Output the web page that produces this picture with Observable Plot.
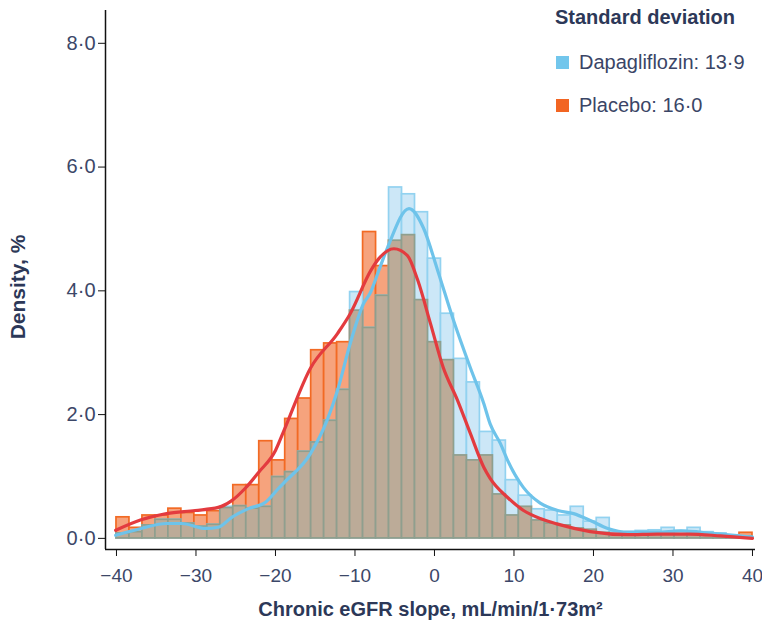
<!DOCTYPE html>
<html><head><meta charset="utf-8">
<script src="https://cdn.jsdelivr.net/npm/d3@7"></script>
<script src="https://cdn.jsdelivr.net/npm/@observablehq/plot@0.6"></script>
<style>
body{margin:0;background:#fff;font-family:"Liberation Sans",Arial,Helvetica,sans-serif;}
#wrap{position:relative;width:762px;height:627px;overflow:hidden;}
#legend{position:absolute;left:0;top:0;color:#3a4566;font-size:20px;}
#legend .ttl{position:absolute;left:555px;top:5px;line-height:24px;white-space:nowrap;font-weight:bold;font-size:20px;color:#2c3858;}
#legend .it{position:absolute;left:556px;line-height:24px;white-space:nowrap;display:flex;align-items:center;}
#legend .sw{width:13px;height:13px;margin-right:10px;display:inline-block;}
#ytitle{position:absolute;left:18px;top:287px;transform:translate(-50%,-50%) rotate(-90deg);white-space:nowrap;font-weight:bold;font-size:21px;color:#2c3858;}
</style></head><body>
<div id="wrap"><div id="chart"></div>
<div id="legend"></div>
<div id="ytitle"></div>
</div>
<script>
// ---- data ----
const legendTitle = "Standard deviation";
const seriesNames = ["Dapagliflozin: 13·9", "Placebo: 16·0"];
const seriesColors = ["#72C6EC", "#F26522"];
const xTitle = "Chronic eGFR slope, mL/min/1\u00B773m\u00B2";
const yTitle = "Density, %";
const xTicks = [-40, -30, -20, -10, 0, 10, 20, 30, 40];
const yTicks = [0, 2, 4, 6, 8];
const binCount = 49;
const binRange = [-40, 40];
// histogram heights (density, %), one per bin, left to right
const placebo = [0.34,0.17,0.37,0.37,0.48,0.41,0.37,0.44,0.49,0.86,
  0.86,1.57,1.26,1.93,2.26,3.04,3.15,3.17,3.68,4.95,
  4.40,4.81,4.90,3.85,3.17,2.88,1.34,1.26,1.34,0.71,
  0.37,0.51,0.29,0.24,0.21,0.16,0.14,0.09,0.06,0.05,
  0.05,0.06,0.07,0.06,0.06,0.05,0.04,0.02,0.09];
const dapagliflozin = [0.08,0.10,0.21,0.30,0.30,0.24,0.19,0.22,0.51,0.52,
  0.48,0.51,0.99,1.07,1.40,1.55,1.90,2.40,3.98,3.40,
  3.92,5.67,5.56,5.27,4.52,3.63,2.90,2.52,1.72,1.58,
  0.94,0.69,0.47,0.45,0.37,0.51,0.27,0.33,0.10,0.10,
  0.12,0.13,0.17,0.12,0.17,0.10,0.08,0.05,0.03];
// density curves
const kdePlaceboX = [-40.1,-36.9,-33.7,-30.1,-27.2,-25.5,-23.8,-22.1,-20.0,-19.0,-15.6,-12.2,-10.6,-8.0,-7.0,-5.1,-3.4,-2.1,-0.5,1.1,2.9,4.5,6.2,7.0,9.2,11.2,13.3,15.5,19.6,24.3,28,32,36,40];
const kdePlaceboY = [0.13,0.30,0.40,0.45,0.50,0.61,0.81,1.07,1.42,1.72,2.75,3.31,3.63,4.33,4.52,4.68,4.57,4.17,3.47,2.76,2.23,1.70,1.15,0.97,0.66,0.45,0.32,0.23,0.11,0.06,0.07,0.07,0.04,0.0];
const kdeDapaX = [-40.1,-36.9,-33.7,-31.8,-28.8,-27.2,-25.5,-23.4,-21.3,-19.6,-19.0,-15.6,-13.5,-12.2,-10.6,-8.9,-8.1,-7.0,-5.9,-3.2,-1.4,0.4,2.4,4.5,6.2,7.0,8.3,9.2,11.2,13.3,15.5,17.5,19.6,21.8,24.3,28,31,35,40];
const kdeDapaY = [0.05,0.16,0.24,0.24,0.16,0.18,0.34,0.48,0.58,0.81,0.89,1.37,1.91,2.39,3.15,3.80,3.96,4.33,4.70,5.33,5.02,4.33,3.52,2.76,2.18,1.85,1.53,1.26,0.82,0.57,0.45,0.40,0.29,0.16,0.10,0.10,0.12,0.08,0.02];

// ---- build ----
const bw = (binRange[1] - binRange[0]) / binCount;
const bars = placebo.map((p, i) => ({
  x1: binRange[0] + i * bw, x2: binRange[0] + (i + 1) * bw,
  p, d: dapagliflozin[i], m: Math.min(p, dapagliflozin[i])
}));
const kdeP = kdePlaceboX.map((x, i) => ({x, y: kdePlaceboY[i]}));
const kdeD = kdeDapaX.map((x, i) => ({x, y: kdeDapaY[i]}));
const xDom = [-41.38, 40.38], yDom = [-0.18, 8.53];
const fmtX = d => (d < 0 ? "\u2212" + Math.abs(d) : String(d));
const fmtY = d => d.toFixed(1).replace(".", "\u00B7");
const txt = "#3c4768";

const chart = Plot.plot({
  width: 762, height: 627,
  marginLeft: 105, marginRight: 7, marginTop: 10, marginBottom: 78,
  style: {fontFamily: '"Liberation Sans", Arial, sans-serif', background: "#fff"},
  x: {domain: xDom},
  y: {domain: yDom},
  marks: [
    Plot.rect(bars, {x1: "x1", x2: "x2", y1: 0, y2: "p", fill: "#F6A37D", stroke: "#F26A24", strokeWidth: 1.7}),
    Plot.rect(bars, {x1: "x1", x2: "x2", y1: 0, y2: "d", fill: "#CCE7F7", stroke: "#92D2F0", strokeWidth: 1.7}),
    Plot.rect(bars, {x1: "x1", x2: "x2", y1: 0, y2: "m", fill: "#BCAB98", stroke: "#8F9F8E", strokeWidth: 1.7}),
    Plot.line(kdeD, {x: "x", y: "y", curve: "monotone-x", stroke: "#6EC3EA", strokeWidth: 3.2}),
    Plot.line(kdeP, {x: "x", y: "y", curve: "monotone-x", stroke: "#E33B3F", strokeWidth: 3.2}),
    Plot.ruleX([xDom[0]], {stroke: "#111", strokeWidth: 1.5}),
    Plot.ruleY([yDom[0]], {stroke: "#111", strokeWidth: 1.5}),
    Plot.axisX({ticks: xTicks, tickFormat: fmtX, tickSize: 7, tickPadding: 12, fontSize: 19, label: null, stroke: "#111", color: txt}),
    Plot.axisY({ticks: yTicks, tickFormat: fmtY, tickSize: 7, tickPadding: 3, fontSize: 20, label: null, stroke: "#111", color: txt}),
    Plot.text([xTitle], {frameAnchor: "bottom", dy: 66, fontWeight: "bold", fontSize: 20, fill: "#2c3858"})
  ]
});
document.getElementById("chart").appendChild(chart);

document.getElementById("ytitle").textContent = yTitle;
const lg = document.getElementById("legend");
lg.innerHTML = `<div class="ttl">${legendTitle}</div>` +
  seriesNames.map((n, i) => `<div class="it" style="top:${50 + i * 43}px"><span class="sw" style="background:${seriesColors[i]}"></span>${n}</div>`).join("");
</script>
</body></html>
